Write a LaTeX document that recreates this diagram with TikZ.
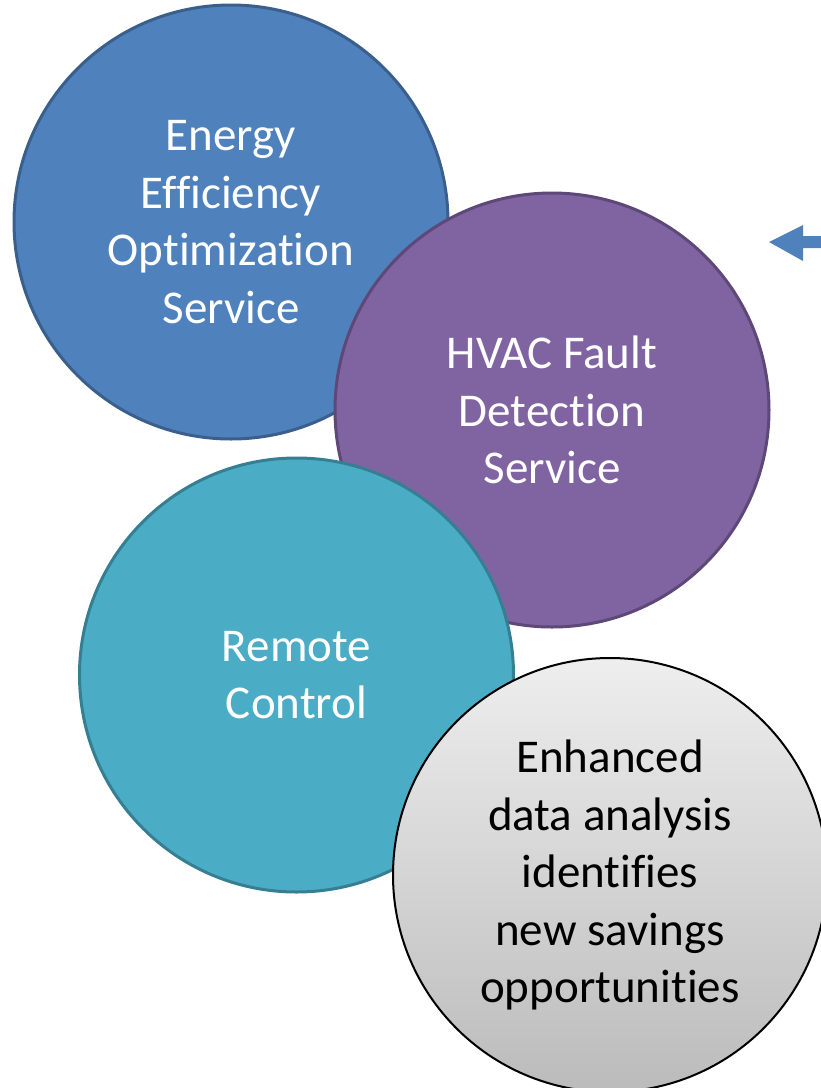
\documentclass[tikz,border=0pt]{standalone}
\usepackage{fontspec}
\setmainfont{Carlito}[Ligatures={NoCommon}]
\definecolor{bluefill}{HTML}{4F81BD}
\definecolor{blueline}{HTML}{3A5F8C}
\definecolor{purplefill}{HTML}{8064A2}
\definecolor{purpleline}{HTML}{5D4878}
\definecolor{tealfill}{HTML}{4BACC6}
\definecolor{tealline}{HTML}{367F92}
\definecolor{graytop}{HTML}{EEEEEE}
\definecolor{graybot}{HTML}{BBBBBB}
\tikzset{
  bubble/.style={circle, minimum size=434pt, inner sep=0pt, align=center,
    line width=3pt, font=\fontsize{47}{57.5}\selectfont},
}
\begin{document}
\begin{tikzpicture}[x=1pt,y=-1pt]
\useasboundingbox (0,0) rectangle (821,1088);
\clip (0,0) rectangle (821,1088);
\node[bubble, fill=bluefill, draw=blueline, text=white] (eeo) at (231,222)
  {Energy\\Efficiency\\Optimization\\Service};
\node[bubble, fill=purplefill, draw=purpleline, text=white] (hvac) at (552,410)
  {HVAC Fault\\Detection\\Service};
\node[bubble, fill=tealfill, draw=tealline, text=white] (rc) at (296.5,675)
  {Remote\\Control};
\node[bubble, top color=graytop, bottom color=graybot, draw=black, line width=2pt, text=black] (eda) at (610,875)
  {Enhanced\\data analysis\\identifies\\new savings\\opportunities};
\fill[bluefill] (769,242) -- (803,225) -- (803,236) -- (830,236) -- (830,248) -- (803,248) -- (803,261) -- cycle;
\end{tikzpicture}
\end{document}
